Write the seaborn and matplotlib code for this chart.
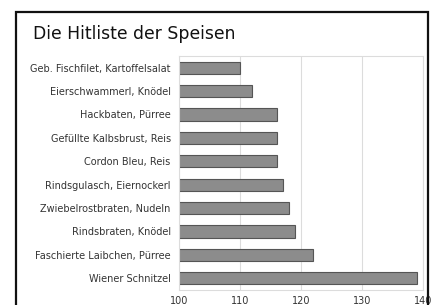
import matplotlib
matplotlib.use("Agg")
import matplotlib.pyplot as plt
import seaborn as sns
import pandas as pd
from matplotlib.patches import Rectangle

dishes = [
    "Geb. Fischfilet, Kartoffelsalat",
    "Eierschwammerl, Knödel",
    "Hackbaten, Pürree",
    "Gefüllte Kalbsbrust, Reis",
    "Cordon Bleu, Reis",
    "Rindsgulasch, Eiernockerl",
    "Zwiebelrostbraten, Nudeln",
    "Rindsbraten, Knödel",
    "Faschierte Laibchen, Pürree",
    "Wiener Schnitzel",
]
scores = [110, 112, 116, 116, 116, 117, 118, 119, 122, 139]
x_ticks = [100, 110, 120, 130, 140]

df = pd.DataFrame({"dish": dishes, "score": scores})

sns.set_style("white")
plt.rcParams['font.family'] = ['DejaVu Sans']

fig = plt.figure(figsize=(4.32, 3.05), dpi=100)
fig.patch.set_facecolor("white")
ax = fig.add_axes([179 / 432, 1 - 290 / 305, 244 / 432, 234 / 305])

sns.barplot(data=df, x="score", y="dish", orient="h", color="#8c8c8c",
            edgecolor="#555555", linewidth=0.8, width=0.52, saturation=1, ax=ax)

ax.set_xlim(100, 140)
ax.set_xticks(x_ticks)
ax.set_xlabel("")
ax.set_ylabel("")
ax.grid(True, axis="x", color="#dcdcdc", linewidth=0.8)
ax.set_axisbelow(True)
ax.tick_params(axis="both", length=0, labelsize=7, colors="#333333", pad=6)
ax.tick_params(axis="x", pad=4)
for spine in ax.spines.values():
    spine.set_edgecolor("#dcdcdc")
    spine.set_linewidth(0.8)

# outer frame
fig.patches.append(Rectangle((16 / 432, -0.05), 412 / 432, 1.05 - 12 / 305,
                             transform=fig.transFigure, fill=False,
                             edgecolor="#111111", linewidth=1.6))

fig.text(33 / 432, 1 - 39 / 305, "Die Hitliste der Speisen", fontsize=12.4,
         color="#111111", ha="left", va="baseline")

plt.savefig("out.png", dpi=100, facecolor="white")
